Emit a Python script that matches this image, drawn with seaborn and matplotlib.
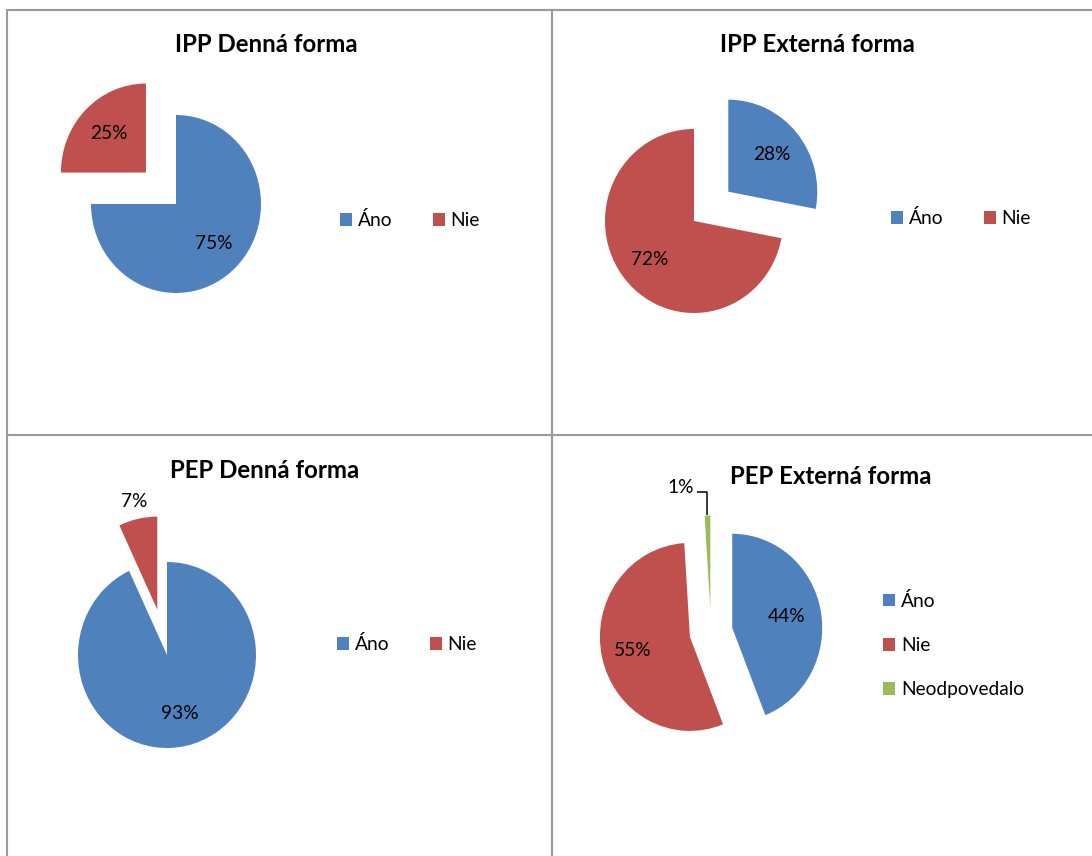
import numpy as np
import matplotlib
matplotlib.use("Agg")
import matplotlib.pyplot as plt
from matplotlib.lines import Line2D
import seaborn as sns

# ---------------- data ----------------
titles = ["IPP Denná forma", "IPP Externá forma", "PEP Denná forma", "PEP Externá forma"]
categories_2 = ["Áno", "Nie"]
categories_3 = ["Áno", "Nie", "Neodpovedalo"]
ipp_denna = [75, 25]
ipp_externa = [28, 72]
pep_denna = [93, 7]
pep_externa = [44, 55, 1]

# ---------------- style ----------------
sns.set_theme(style="white")
plt.rcParams['font.family'] = ['Lato', 'DejaVu Sans']
palette = sns.color_palette(["#4F81BD", "#C0504D", "#9BBB59"])

W, H = 1092, 856
fig = plt.figure(figsize=(W / 100, H / 100), dpi=100)
fig.patch.set_facecolor("white")


def fx(px):
    return px / W


def fy(py):
    return 1 - py / H


LABEL_FS = 13.8
LEGEND_FS = 13.8
TITLE_FS = 17.3
EM = LEGEND_FS * 100 / 72

panels = [
    dict(values=ipp_denna, cats=categories_2, title=titles[0], center=(176, 204), r=(85, 89),
         explode=[0, 0.5], title_xy=(266, 45), legend_xy=(340, 220), ncol=2,
         label_dist=[0.62, 0.62], leader=None),
    dict(values=ipp_externa, cats=categories_2, title=titles[1], center=(694, 221), r=(89, 92),
         explode=[0.5, 0], title_xy=(817, 45), legend_xy=(891, 218), ncol=2,
         label_dist=[0.64, 0.65], leader=None),
    dict(values=pep_denna, cats=categories_2, title=titles[2], center=(167, 655), r=(89, 93),
         explode=[0, 0.5], title_xy=(265, 470), legend_xy=(337, 644), ncol=2,
         label_dist=[0.64, 1.19], leader=None),
    dict(values=pep_externa, cats=categories_3, title=titles[3], center=(711, 632), r=(90, 94),
         explode=[0.24, 0.24, 0.24], title_xy=(831, 476), legend_xy=(883, 645), ncol=1,
         label_dist=[0.62, 0.65, None], leader=2),
]

S = 230  # half size of each pie axes in px
for p in panels:
    cx, cy = p["center"]
    rx, ry = p["r"]
    ax = fig.add_axes([fx(cx - S), fy(cy + S), 2 * S / W, 2 * S / H])
    n = len(p["values"])
    wedges, _ = ax.pie(p["values"], colors=palette[:n], startangle=90, counterclock=False,
                       explode=p["explode"], radius=1, wedgeprops=dict(linewidth=0))
    ax.set_aspect('auto')
    ax.set_xlim(-S / rx, S / rx)
    ax.set_ylim(-S / ry, S / ry)
    ax.axis('off')

    for i, w in enumerate(wedges):
        theta = np.deg2rad((w.theta1 + w.theta2) / 2)
        wx, wy = w.center
        txt = f"{p['values'][i]}%"
        if p["leader"] == i:
            ax_x = wx + np.cos(theta)
            ax_y = wy + np.sin(theta)
            ey = wy + 1.245 * np.sin(theta)
            ex = ax_x - 0.12
            ax.plot([ax_x, ax_x, ex], [ax_y, ey, ey], color="black", lw=1.1,
                    solid_capstyle='butt', clip_on=False)
            ax.text(ex - 0.03, ey + 0.05, txt, ha='right', va='center',
                    fontsize=LABEL_FS, color="black")
            continue
        d = p["label_dist"][i]
        ax.text(wx + d * np.cos(theta), wy + d * np.sin(theta), txt,
                ha='center', va='center', fontsize=LABEL_FS, color="black")

    fig.text(fx(p["title_xy"][0]), fy(p["title_xy"][1]), p["title"], ha='center', va='center',
             fontsize=TITLE_FS, fontweight='bold', color='black')

    lx, ly = p["legend_xy"]
    fig.legend(wedges, p["cats"], loc='center left', bbox_to_anchor=(fx(lx), fy(ly)),
               ncol=p["ncol"], frameon=False, borderpad=0, borderaxespad=0,
               handlelength=12 / EM, handleheight=12 / EM, handletextpad=6 / EM,
               columnspacing=40 / EM, labelspacing=1.42, fontsize=LEGEND_FS,
               labelcolor="black")

# ---------------- panel borders ----------------
grey = "#9a9a9a"
lw = 1.5
for (x0, y0, x1, y1) in [(7, 10, 7, H), (7, 10, W, 10), (552, 10, 552, H), (7, 435, W, 435)]:
    fig.add_artist(Line2D([fx(x0), fx(x1)], [fy(y0), fy(y1)], color=grey, lw=lw))

fig.savefig("out.png", dpi=100, facecolor="white")
